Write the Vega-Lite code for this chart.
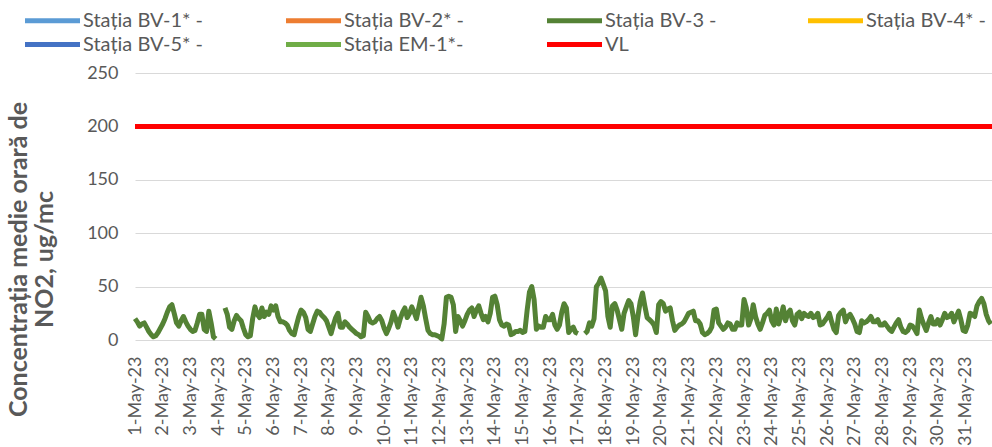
{
"$schema": "https://vega.github.io/schema/vega-lite/v6.json",
"width": 857, "height": 267,
"autosize": {"type": "none"},
"padding": {"left": 135, "top": 73, "right": 0, "bottom": 107},
"background": "white",
"config": {"view": {"stroke": null}, "font": "Lato"},
"datasets": {
"bv3": [
{"t":"2023-05-01T00:00","v":20},{"t":"2023-05-01T02:00","v":17},{"t":"2023-05-01T04:00","v":13},{"t":"2023-05-01T06:00","v":15},{"t":"2023-05-01T08:00","v":16},{"t":"2023-05-01T10:00","v":12},{"t":"2023-05-01T12:00","v":8},{"t":"2023-05-01T14:00","v":5},{"t":"2023-05-01T16:00","v":3},{"t":"2023-05-01T18:00","v":4},{"t":"2023-05-01T20:00","v":7},{"t":"2023-05-01T22:00","v":11},
{"t":"2023-05-02T00:00","v":15},{"t":"2023-05-02T02:00","v":20},{"t":"2023-05-02T04:00","v":26},{"t":"2023-05-02T06:00","v":31},{"t":"2023-05-02T08:00","v":33},{"t":"2023-05-02T10:00","v":25},{"t":"2023-05-02T12:00","v":16},{"t":"2023-05-02T14:00","v":13},{"t":"2023-05-02T16:00","v":18},{"t":"2023-05-02T18:00","v":22},{"t":"2023-05-02T20:00","v":17},{"t":"2023-05-02T22:00","v":13},
{"t":"2023-05-03T00:00","v":10},{"t":"2023-05-03T02:00","v":8},{"t":"2023-05-03T04:00","v":9},{"t":"2023-05-03T06:00","v":16},{"t":"2023-05-03T08:00","v":24},{"t":"2023-05-03T10:00","v":24},{"t":"2023-05-03T12:00","v":10},{"t":"2023-05-03T14:00","v":8},{"t":"2023-05-03T16:00","v":27},{"t":"2023-05-03T18:00","v":16},{"t":"2023-05-03T20:00","v":3},{"t":"2023-05-03T22:00","v":1},
{"t":"2023-05-04T00:00","v":null},{"t":"2023-05-04T02:00","v":null},{"t":"2023-05-04T04:00","v":null},{"t":"2023-05-04T06:00","v":30},{"t":"2023-05-04T08:00","v":24},{"t":"2023-05-04T10:00","v":12},{"t":"2023-05-04T12:00","v":10},{"t":"2023-05-04T14:00","v":18},{"t":"2023-05-04T16:00","v":23},{"t":"2023-05-04T18:00","v":20},{"t":"2023-05-04T20:00","v":18},{"t":"2023-05-04T22:00","v":11},
{"t":"2023-05-05T00:00","v":5},{"t":"2023-05-05T02:00","v":3},{"t":"2023-05-05T04:00","v":4},{"t":"2023-05-05T06:00","v":20},{"t":"2023-05-05T08:00","v":31},{"t":"2023-05-05T10:00","v":24},{"t":"2023-05-05T12:00","v":21},{"t":"2023-05-05T14:00","v":30},{"t":"2023-05-05T16:00","v":22},{"t":"2023-05-05T18:00","v":26},{"t":"2023-05-05T20:00","v":24},{"t":"2023-05-05T22:00","v":32},
{"t":"2023-05-06T00:00","v":28},{"t":"2023-05-06T02:00","v":32},{"t":"2023-05-06T04:00","v":22},{"t":"2023-05-06T06:00","v":17},{"t":"2023-05-06T08:00","v":17},{"t":"2023-05-06T10:00","v":16},{"t":"2023-05-06T12:00","v":14},{"t":"2023-05-06T14:00","v":9},{"t":"2023-05-06T16:00","v":6},{"t":"2023-05-06T18:00","v":5},{"t":"2023-05-06T20:00","v":14},{"t":"2023-05-06T22:00","v":22},
{"t":"2023-05-07T00:00","v":28},{"t":"2023-05-07T02:00","v":26},{"t":"2023-05-07T04:00","v":21},{"t":"2023-05-07T06:00","v":10},{"t":"2023-05-07T08:00","v":8},{"t":"2023-05-07T10:00","v":15},{"t":"2023-05-07T12:00","v":22},{"t":"2023-05-07T14:00","v":27},{"t":"2023-05-07T16:00","v":26},{"t":"2023-05-07T18:00","v":23},{"t":"2023-05-07T20:00","v":21},{"t":"2023-05-07T22:00","v":18},
{"t":"2023-05-08T00:00","v":12},{"t":"2023-05-08T02:00","v":6},{"t":"2023-05-08T04:00","v":14},{"t":"2023-05-08T06:00","v":21},{"t":"2023-05-08T08:00","v":25},{"t":"2023-05-08T10:00","v":12},{"t":"2023-05-08T12:00","v":12},{"t":"2023-05-08T14:00","v":17},{"t":"2023-05-08T16:00","v":15},{"t":"2023-05-08T18:00","v":12},{"t":"2023-05-08T20:00","v":10},{"t":"2023-05-08T22:00","v":8},
{"t":"2023-05-09T00:00","v":6},{"t":"2023-05-09T02:00","v":5},{"t":"2023-05-09T04:00","v":3},{"t":"2023-05-09T06:00","v":4},{"t":"2023-05-09T08:00","v":26},{"t":"2023-05-09T10:00","v":22},{"t":"2023-05-09T12:00","v":17},{"t":"2023-05-09T14:00","v":16},{"t":"2023-05-09T16:00","v":17},{"t":"2023-05-09T18:00","v":20},{"t":"2023-05-09T20:00","v":22},{"t":"2023-05-09T22:00","v":18},
{"t":"2023-05-10T00:00","v":11},{"t":"2023-05-10T02:00","v":6},{"t":"2023-05-10T04:00","v":11},{"t":"2023-05-10T06:00","v":17},{"t":"2023-05-10T08:00","v":26},{"t":"2023-05-10T10:00","v":20},{"t":"2023-05-10T12:00","v":12},{"t":"2023-05-10T14:00","v":20},{"t":"2023-05-10T16:00","v":26},{"t":"2023-05-10T18:00","v":30},{"t":"2023-05-10T20:00","v":21},{"t":"2023-05-10T22:00","v":25},
{"t":"2023-05-11T00:00","v":31},{"t":"2023-05-11T02:00","v":26},{"t":"2023-05-11T04:00","v":20},{"t":"2023-05-11T06:00","v":30},{"t":"2023-05-11T08:00","v":40},{"t":"2023-05-11T10:00","v":32},{"t":"2023-05-11T12:00","v":20},{"t":"2023-05-11T14:00","v":9},{"t":"2023-05-11T16:00","v":6},{"t":"2023-05-11T18:00","v":5},{"t":"2023-05-11T20:00","v":5},{"t":"2023-05-11T22:00","v":4},
{"t":"2023-05-12T00:00","v":3},{"t":"2023-05-12T02:00","v":1},{"t":"2023-05-12T04:00","v":15},{"t":"2023-05-12T06:00","v":40},{"t":"2023-05-12T08:00","v":41},{"t":"2023-05-12T10:00","v":40},{"t":"2023-05-12T12:00","v":33},{"t":"2023-05-12T14:00","v":8},{"t":"2023-05-12T16:00","v":22},{"t":"2023-05-12T18:00","v":18},{"t":"2023-05-12T20:00","v":13},{"t":"2023-05-12T22:00","v":18},
{"t":"2023-05-13T00:00","v":24},{"t":"2023-05-13T02:00","v":28},{"t":"2023-05-13T04:00","v":30},{"t":"2023-05-13T06:00","v":22},{"t":"2023-05-13T08:00","v":28},{"t":"2023-05-13T10:00","v":32},{"t":"2023-05-13T12:00","v":25},{"t":"2023-05-13T14:00","v":19},{"t":"2023-05-13T16:00","v":22},{"t":"2023-05-13T18:00","v":17},{"t":"2023-05-13T20:00","v":25},{"t":"2023-05-13T22:00","v":40},
{"t":"2023-05-14T00:00","v":41},{"t":"2023-05-14T02:00","v":33},{"t":"2023-05-14T04:00","v":19},{"t":"2023-05-14T06:00","v":14},{"t":"2023-05-14T08:00","v":13},{"t":"2023-05-14T10:00","v":15},{"t":"2023-05-14T12:00","v":14},{"t":"2023-05-14T14:00","v":5},{"t":"2023-05-14T16:00","v":6},{"t":"2023-05-14T18:00","v":8},{"t":"2023-05-14T20:00","v":8},{"t":"2023-05-14T22:00","v":9},
{"t":"2023-05-15T00:00","v":7},{"t":"2023-05-15T02:00","v":8},{"t":"2023-05-15T04:00","v":28},{"t":"2023-05-15T06:00","v":45},{"t":"2023-05-15T08:00","v":50},{"t":"2023-05-15T10:00","v":38},{"t":"2023-05-15T12:00","v":10},{"t":"2023-05-15T14:00","v":13},{"t":"2023-05-15T16:00","v":12},{"t":"2023-05-15T18:00","v":12},{"t":"2023-05-15T20:00","v":22},{"t":"2023-05-15T22:00","v":19},
{"t":"2023-05-16T00:00","v":19},{"t":"2023-05-16T02:00","v":24},{"t":"2023-05-16T04:00","v":14},{"t":"2023-05-16T06:00","v":10},{"t":"2023-05-16T08:00","v":14},{"t":"2023-05-16T10:00","v":26},{"t":"2023-05-16T12:00","v":34},{"t":"2023-05-16T14:00","v":30},{"t":"2023-05-16T16:00","v":7},{"t":"2023-05-16T18:00","v":10},{"t":"2023-05-16T20:00","v":12},{"t":"2023-05-16T22:00","v":7},
{"t":"2023-05-17T00:00","v":6},{"t":"2023-05-17T02:00","v":null},{"t":"2023-05-17T04:00","v":null},{"t":"2023-05-17T06:00","v":6},{"t":"2023-05-17T08:00","v":8},{"t":"2023-05-17T10:00","v":16},{"t":"2023-05-17T12:00","v":13},{"t":"2023-05-17T14:00","v":20},{"t":"2023-05-17T16:00","v":50},{"t":"2023-05-17T18:00","v":53},{"t":"2023-05-17T20:00","v":58},{"t":"2023-05-17T22:00","v":52},
{"t":"2023-05-18T00:00","v":46},{"t":"2023-05-18T02:00","v":22},{"t":"2023-05-18T04:00","v":12},{"t":"2023-05-18T06:00","v":32},{"t":"2023-05-18T08:00","v":34},{"t":"2023-05-18T10:00","v":28},{"t":"2023-05-18T12:00","v":19},{"t":"2023-05-18T14:00","v":10},{"t":"2023-05-18T16:00","v":25},{"t":"2023-05-18T18:00","v":31},{"t":"2023-05-18T20:00","v":37},{"t":"2023-05-18T22:00","v":34},
{"t":"2023-05-19T00:00","v":22},{"t":"2023-05-19T02:00","v":5},{"t":"2023-05-19T04:00","v":22},{"t":"2023-05-19T06:00","v":36},{"t":"2023-05-19T08:00","v":44},{"t":"2023-05-19T10:00","v":32},{"t":"2023-05-19T12:00","v":21},{"t":"2023-05-19T14:00","v":19},{"t":"2023-05-19T16:00","v":17},{"t":"2023-05-19T18:00","v":14},{"t":"2023-05-19T20:00","v":7},{"t":"2023-05-19T22:00","v":33},
{"t":"2023-05-20T00:00","v":36},{"t":"2023-05-20T02:00","v":34},{"t":"2023-05-20T04:00","v":27},{"t":"2023-05-20T06:00","v":29},{"t":"2023-05-20T08:00","v":30},{"t":"2023-05-20T10:00","v":18},{"t":"2023-05-20T12:00","v":9},{"t":"2023-05-20T14:00","v":12},{"t":"2023-05-20T16:00","v":14},{"t":"2023-05-20T18:00","v":15},{"t":"2023-05-20T20:00","v":17},{"t":"2023-05-20T22:00","v":21},
{"t":"2023-05-21T00:00","v":25},{"t":"2023-05-21T02:00","v":26},{"t":"2023-05-21T04:00","v":27},{"t":"2023-05-21T06:00","v":18},{"t":"2023-05-21T08:00","v":18},{"t":"2023-05-21T10:00","v":15},{"t":"2023-05-21T12:00","v":7},{"t":"2023-05-21T14:00","v":5},{"t":"2023-05-21T16:00","v":6},{"t":"2023-05-21T18:00","v":8},{"t":"2023-05-21T20:00","v":12},{"t":"2023-05-21T22:00","v":28},
{"t":"2023-05-22T00:00","v":29},{"t":"2023-05-22T02:00","v":16},{"t":"2023-05-22T04:00","v":13},{"t":"2023-05-22T06:00","v":10},{"t":"2023-05-22T08:00","v":12},{"t":"2023-05-22T10:00","v":16},{"t":"2023-05-22T12:00","v":15},{"t":"2023-05-22T14:00","v":10},{"t":"2023-05-22T16:00","v":10},{"t":"2023-05-22T18:00","v":16},{"t":"2023-05-22T20:00","v":14},{"t":"2023-05-22T22:00","v":14},
{"t":"2023-05-23T00:00","v":38},{"t":"2023-05-23T02:00","v":30},{"t":"2023-05-23T04:00","v":14},{"t":"2023-05-23T06:00","v":20},{"t":"2023-05-23T08:00","v":33},{"t":"2023-05-23T10:00","v":22},{"t":"2023-05-23T12:00","v":15},{"t":"2023-05-23T14:00","v":10},{"t":"2023-05-23T16:00","v":16},{"t":"2023-05-23T18:00","v":23},{"t":"2023-05-23T20:00","v":25},{"t":"2023-05-23T22:00","v":28},
{"t":"2023-05-24T00:00","v":18},{"t":"2023-05-24T02:00","v":14},{"t":"2023-05-24T04:00","v":29},{"t":"2023-05-24T06:00","v":15},{"t":"2023-05-24T08:00","v":22},{"t":"2023-05-24T10:00","v":31},{"t":"2023-05-24T12:00","v":18},{"t":"2023-05-24T14:00","v":25},{"t":"2023-05-24T16:00","v":28},{"t":"2023-05-24T18:00","v":18},{"t":"2023-05-24T20:00","v":14},{"t":"2023-05-24T22:00","v":24},
{"t":"2023-05-25T00:00","v":26},{"t":"2023-05-25T02:00","v":20},{"t":"2023-05-25T04:00","v":25},{"t":"2023-05-25T06:00","v":23},{"t":"2023-05-25T08:00","v":22},{"t":"2023-05-25T10:00","v":25},{"t":"2023-05-25T12:00","v":21},{"t":"2023-05-25T14:00","v":22},{"t":"2023-05-25T16:00","v":25},{"t":"2023-05-25T18:00","v":14},{"t":"2023-05-25T20:00","v":15},{"t":"2023-05-25T22:00","v":18},
{"t":"2023-05-26T00:00","v":21},{"t":"2023-05-26T02:00","v":25},{"t":"2023-05-26T04:00","v":17},{"t":"2023-05-26T06:00","v":10},{"t":"2023-05-26T08:00","v":7},{"t":"2023-05-26T10:00","v":23},{"t":"2023-05-26T12:00","v":26},{"t":"2023-05-26T14:00","v":28},{"t":"2023-05-26T16:00","v":17},{"t":"2023-05-26T18:00","v":22},{"t":"2023-05-26T20:00","v":24},{"t":"2023-05-26T22:00","v":20},
{"t":"2023-05-27T00:00","v":15},{"t":"2023-05-27T02:00","v":8},{"t":"2023-05-27T04:00","v":7},{"t":"2023-05-27T06:00","v":18},{"t":"2023-05-27T08:00","v":16},{"t":"2023-05-27T10:00","v":17},{"t":"2023-05-27T12:00","v":19},{"t":"2023-05-27T14:00","v":22},{"t":"2023-05-27T16:00","v":17},{"t":"2023-05-27T18:00","v":17},{"t":"2023-05-27T20:00","v":19},{"t":"2023-05-27T22:00","v":14},
{"t":"2023-05-28T00:00","v":14},{"t":"2023-05-28T02:00","v":16},{"t":"2023-05-28T04:00","v":13},{"t":"2023-05-28T06:00","v":10},{"t":"2023-05-28T08:00","v":8},{"t":"2023-05-28T10:00","v":12},{"t":"2023-05-28T12:00","v":16},{"t":"2023-05-28T14:00","v":19},{"t":"2023-05-28T16:00","v":12},{"t":"2023-05-28T18:00","v":8},{"t":"2023-05-28T20:00","v":7},{"t":"2023-05-28T22:00","v":9},
{"t":"2023-05-29T00:00","v":14},{"t":"2023-05-29T02:00","v":13},{"t":"2023-05-29T04:00","v":10},{"t":"2023-05-29T06:00","v":6},{"t":"2023-05-29T08:00","v":28},{"t":"2023-05-29T10:00","v":20},{"t":"2023-05-29T12:00","v":14},{"t":"2023-05-29T14:00","v":9},{"t":"2023-05-29T16:00","v":16},{"t":"2023-05-29T18:00","v":22},{"t":"2023-05-29T20:00","v":15},{"t":"2023-05-29T22:00","v":15},
{"t":"2023-05-30T00:00","v":19},{"t":"2023-05-30T02:00","v":14},{"t":"2023-05-30T04:00","v":19},{"t":"2023-05-30T06:00","v":25},{"t":"2023-05-30T08:00","v":21},{"t":"2023-05-30T10:00","v":22},{"t":"2023-05-30T12:00","v":25},{"t":"2023-05-30T14:00","v":17},{"t":"2023-05-30T16:00","v":22},{"t":"2023-05-30T18:00","v":27},{"t":"2023-05-30T20:00","v":19},{"t":"2023-05-30T22:00","v":9},
{"t":"2023-05-31T00:00","v":8},{"t":"2023-05-31T02:00","v":14},{"t":"2023-05-31T04:00","v":25},{"t":"2023-05-31T06:00","v":24},{"t":"2023-05-31T08:00","v":22},{"t":"2023-05-31T10:00","v":32},{"t":"2023-05-31T12:00","v":36},{"t":"2023-05-31T14:00","v":39},{"t":"2023-05-31T16:00","v":34},{"t":"2023-05-31T18:00","v":24},{"t":"2023-05-31T20:00","v":18},{"t":"2023-05-31T22:00","v":15}
],
"vl": [{"t":"2023-05-01T00:00","v":200},{"t":"2023-05-31T23:00","v":200}]
},
"layer": [
{
"data": {"name": "bv3"},
"mark": {"type": "line", "strokeWidth": 5, "strokeJoin": "round", "invalid": "break-paths-show-domains"},
"encoding": {
"x": {"field": "t", "type": "temporal",
"scale": {"domain": [{"year": 2023, "month": 5, "date": 1, "hours": 0}, {"year": 2023, "month": 5, "date": 31, "hours": 23}], "nice": false},
"axis": {"format": "%-d-%b-%y", "tickCount": {"interval": "day", "step": 1}, "labelAngle": -90, "labelOverlap": false, "labelFlush": false, "domain": false, "ticks": false, "tickSize": 0, "grid": false, "labelFont": "Lato", "labelFontSize": 18, "labelColor": "#595959", "labelPadding": 16, "title": null}},
"y": {"field": "v", "type": "quantitative",
"scale": {"domain": [0, 250], "nice": false},
"axis": {"values": [0, 50, 100, 150, 200, 250], "domain": false, "ticks": false, "tickSize": 0, "gridColor": "#D9D9D9", "gridWidth": 1, "labelFont": "Lato", "labelFontSize": 18, "labelColor": "#595959", "labelPadding": 17,
"title": ["Concentrația medie orară de", "NO2, ug/mc"], "titleFont": "Lato", "titleFontSize": 25, "titleFontWeight": "bold", "titleColor": "#595959", "titleAngle": -90, "titleX": -129, "titleY": 186, "titleBaseline": "top", "titleAlign": "center", "titleLineHeight": 26}},
"color": {"datum": "Stația BV-3 -", "type": "nominal",
"scale": {"domain": ["Stația BV-1* -", "Stația BV-2* -", "Stația BV-3 -", "Stația BV-4* -", "Stația BV-5* -", "Stația EM-1*-", "VL"],
"range": ["#5B9BD5", "#ED7D31", "#548235", "#FFC000", "#4472C4", "#70AD47", "#FF0000"]},
"legend": {"orient": "none", "legendX": -96, "legendY": -66, "direction": "horizontal", "columns": 4, "gridAlign": "all", "columnPadding": 72, "rowPadding": 0, "symbolType": "M-2.5,0H2.5", "symbolSize": 484, "symbolStrokeWidth": 5, "labelFont": "Lato", "labelFontSize": 20, "labelColor": "#595959", "labelOffset": 17, "labelLimit": 300, "title": null}}
}
},
{
"data": {"name": "vl"},
"mark": {"type": "line", "strokeWidth": 5},
"encoding": {
"x": {"field": "t", "type": "temporal", "scale": {"domain": [{"year": 2023, "month": 5, "date": 1, "hours": 0}, {"year": 2023, "month": 5, "date": 31, "hours": 23}], "nice": false}},
"y": {"field": "v", "type": "quantitative", "scale": {"domain": [0, 250], "nice": false}},
"color": {"datum": "VL", "type": "nominal"}
}
}
]
}
